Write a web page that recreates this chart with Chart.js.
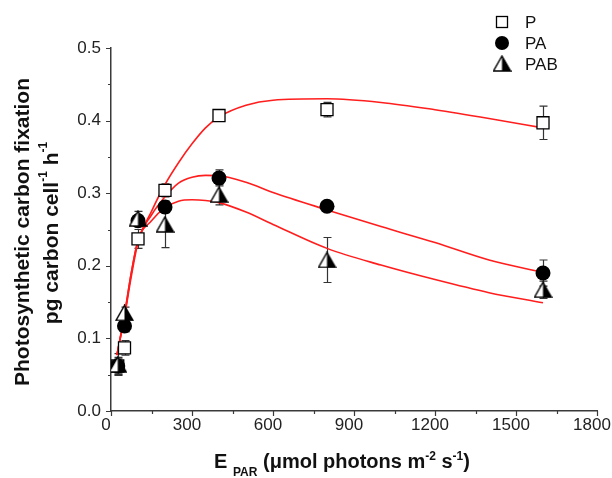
<!DOCTYPE html>
<html>
<head>
<meta charset="utf-8">
<script src="https://cdn.jsdelivr.net/npm/chart.js@4.4.1/dist/chart.umd.min.js"></script>
<style>
  html, body { margin: 0; padding: 0; background: #fff; }
  #wrap { width: 612px; height: 478px; }
</style>
</head>
<body>
<div id="wrap"><canvas id="chart" width="612" height="478"></canvas></div>
<script>
// Light levels (E PAR) of the measurements
const lightX = [25, 50, 100, 200, 400, 800, 1600];

// Measured carbon fixation per treatment
const pVals   = [0.062, 0.087, 0.237, 0.304, 0.407, 0.415, 0.397];
const paVals  = [0.062, 0.117, 0.262, 0.281, 0.321, 0.282, 0.190];
const pabVals = [0.064, 0.135, 0.265, 0.257, 0.298, 0.208, 0.167];

// Error bars (+/-)
const pErr   = [0.010, 0.010, 0.013, 0.009, 0.005, 0.010, 0.023];
const paErr  = [0.012, 0.008, 0.008, 0.008, 0.011, 0.005, 0.018];
const pabErr = [0.015, 0.008, 0.010, 0.032, 0.014, 0.031, 0.012];

// Fitted curves
const curveX   = [22, 50, 75, 100, 150, 200, 250, 300, 350, 400, 500, 600, 800, 1000, 1200, 1400, 1600];
const pCurve   = [0.077, 0.130, 0.185, 0.232, 0.275, 0.312, 0.342, 0.368, 0.390, 0.405, 0.421, 0.428, 0.430, 0.425, 0.415, 0.403, 0.390];
const paCurve  = [0.077, 0.132, 0.190, 0.235, 0.270, 0.295, 0.314, 0.322, 0.3245, 0.324, 0.315, 0.301, 0.277, 0.254, 0.232, 0.208, 0.191];
const pabCurve = [0.077, 0.133, 0.190, 0.235, 0.262, 0.280, 0.289, 0.291, 0.290, 0.287, 0.274, 0.257, 0.224, 0.201, 0.181, 0.163, 0.149];

// Axis ticks
const xTicks = [0, 300, 600, 900, 1200, 1500, 1800];
const yTicks = [0.0, 0.1, 0.2, 0.3, 0.4, 0.5];

const legendNames = ["P", "PA", "PAB"];

const FONT = '"Liberation Sans", Arial, sans-serif';
const AXIS = "#3a3a3a";
const RED = "#ff1e1e";

// half-open triangle marker: left half white, right half black
function makeTriangle() {
  const c = document.createElement("canvas");
  c.width = 19; c.height = 17;
  const g = c.getContext("2d");
  g.beginPath();
  g.moveTo(9.5, 1); g.lineTo(18, 16); g.lineTo(1, 16); g.closePath();
  g.fillStyle = "#fff"; g.fill();
  g.beginPath();
  g.moveTo(9.5, 1); g.lineTo(18, 16); g.lineTo(9.5, 16); g.closePath();
  g.fillStyle = "#000"; g.fill();
  g.beginPath();
  g.moveTo(9.5, 1); g.lineTo(18, 16); g.lineTo(1, 16); g.closePath();
  g.lineWidth = 1.4; g.strokeStyle = "#000"; g.stroke();
  return c;
}
const triImg = makeTriangle();

const pts = (xs, ys) => xs.map((x, i) => ({ x, y: ys[i] }));

// error bars drawn under the markers
const errorBars = {
  id: "errorBars",
  beforeDatasetsDraw(chart) {
    const { ctx, scales: { x, y } } = chart;
    const sets = [[pVals, pErr], [paVals, paErr], [pabVals, pabErr]];
    ctx.save();
    ctx.strokeStyle = "#333";
    ctx.lineWidth = 1.2;
    sets.forEach(([vals, errs]) => {
      vals.forEach((v, i) => {
        const px = Math.round(x.getPixelForValue(lightX[i])) + 0.5;
        const top = y.getPixelForValue(v + errs[i]);
        const bot = y.getPixelForValue(v - errs[i]);
        ctx.beginPath();
        ctx.moveTo(px, top); ctx.lineTo(px, bot);
        ctx.moveTo(px - 4, top); ctx.lineTo(px + 4, top);
        ctx.moveTo(px - 4, bot); ctx.lineTo(px + 4, bot);
        ctx.stroke();
      });
    });
    ctx.restore();
  },
};

// draws text runs with super/subscripts
function drawRich(ctx, parts, cx, cy, size) {
  const small = Math.round(size * 0.58);
  const fonts = {
    main: "bold " + size + "px " + FONT,
    sup: "bold " + small + "px " + FONT,
    sub: "bold " + small + "px " + FONT,
  };
  const dy = { main: 0, sup: -size * 0.38, sub: size * 0.38 };
  let total = 0;
  parts.forEach((p) => { ctx.font = fonts[p.f]; p.w = ctx.measureText(p.t).width; total += p.w; });
  let xx = cx - total / 2;
  ctx.textAlign = "left";
  parts.forEach((p) => {
    ctx.font = fonts[p.f];
    ctx.fillText(p.t, xx, cy + dy[p.f]);
    xx += p.w;
  });
}

const decorations = {
  id: "decorations",
  afterDraw(chart) {
    const { ctx, scales: { x, y } } = chart;
    ctx.save();
    // major / minor ticks, outward
    ctx.strokeStyle = AXIS;
    ctx.lineWidth = 1.2;
    ctx.beginPath();
    for (let v = 0; v <= 1800; v += 150) {
      const px = Math.round(x.getPixelForValue(v)) + 0.5;
      const len = v % 300 === 0 ? 5 : 3;
      ctx.moveTo(px, y.bottom); ctx.lineTo(px, y.bottom + len);
    }
    for (let k = 0; k <= 10; k++) {
      const py = Math.round(y.getPixelForValue(k * 0.05)) + 0.5;
      const len = k % 2 === 0 ? 5 : 3;
      ctx.moveTo(x.left, py); ctx.lineTo(x.left - len, py);
    }
    ctx.stroke();

    // axis titles
    ctx.fillStyle = "#111";
    ctx.textBaseline = "alphabetic";
    drawRich(ctx, [
      { t: "E", f: "main" }, { t: " ", f: "main" }, { t: "PAR", f: "sub" }, { t: " ", f: "main" },
      { t: "(\u03bcmol photons m", f: "main" }, { t: "-2", f: "sup" },
      { t: " s", f: "main" }, { t: "-1", f: "sup" }, { t: ")", f: "main" },
    ], 342, 468, 20);

    ctx.textBaseline = "middle";
    ctx.save();
    ctx.translate(23, 232);
    ctx.rotate(-Math.PI / 2);
    drawRich(ctx, [{ t: "Photosynthetic carbon fixation", f: "main" }], 0, 0, 21);
    ctx.restore();
    ctx.save();
    ctx.translate(52, 233);
    ctx.rotate(-Math.PI / 2);
    drawRich(ctx, [
      { t: "pg carbon cell", f: "main" }, { t: "-1", f: "sup" },
      { t: " h", f: "main" }, { t: "-1", f: "sup" },
    ], 0, 0, 21);
    ctx.restore();

    // legend
    const lx = 502, ly = [22, 43, 64];
    ctx.strokeStyle = "#000";
    ctx.lineWidth = 1.3;
    ctx.strokeRect(lx - 5.5, ly[0] - 5.5, 11, 11);
    ctx.fillStyle = "#000";
    ctx.beginPath(); ctx.arc(lx, ly[1], 7, 0, Math.PI * 2); ctx.fill();
    ctx.drawImage(triImg, lx - 9.5, ly[2] - 9);
    ctx.font = "17px " + FONT;
    ctx.fillStyle = "#111";
    ctx.textAlign = "left";
    legendNames.forEach((n, i) => ctx.fillText(n, 525, ly[i] + 1));
    ctx.restore();
  },
};

const markerBase = { showLine: false, pointBorderColor: "#000", pointHoverRadius: 7 };
const curveBase = { showLine: true, pointRadius: 0, borderColor: RED, borderWidth: 1.6, cubicInterpolationMode: "monotone", fill: false, order: 10 };

new Chart(document.getElementById("chart"), {
  type: "scatter",
  data: {
    datasets: [
      { ...markerBase, label: "P", data: pts(lightX, pVals), pointStyle: "rect", pointRadius: 8.5,
        pointBackgroundColor: "#fff", pointBorderWidth: 1.3, order: 3 },
      { ...markerBase, label: "PA", data: pts(lightX, paVals), pointStyle: "circle", pointRadius: 7.5,
        pointBackgroundColor: "#000", pointBorderWidth: 0, order: 2 },
      { ...markerBase, label: "PAB", data: pts(lightX, pabVals), pointStyle: triImg, order: 1 },
      { ...curveBase, label: "P fit", data: pts(curveX, pCurve) },
      { ...curveBase, label: "PA fit", data: pts(curveX, paCurve) },
      { ...curveBase, label: "PAB fit", data: pts(curveX, pabCurve) },
    ],
  },
  options: {
    responsive: false,
    animation: false,
    devicePixelRatio: 1,
    layout: { padding: { left: 0, top: 48, right: 15, bottom: 0 } },
    plugins: { legend: { display: false }, tooltip: { enabled: false } },
    scales: {
      x: {
        type: "linear", min: 0, max: 1800,
        afterBuildTicks: (s) => { s.ticks = xTicks.map((v) => ({ value: v })); },
        afterFit: (s) => { s.height = 67; s.paddingLeft = 0; s.paddingRight = 0; },
        grid: { display: false, drawTicks: false },
        border: { display: true, color: AXIS, width: 1.5 },
        ticks: { padding: 4, labelOffset: -5, color: "#222", font: { family: FONT, size: 17 }, maxRotation: 0, autoSkip: false,
          callback: (v) => String(v) },
      },
      y: {
        type: "linear", min: 0, max: 0.5,
        afterBuildTicks: (s) => { s.ticks = yTicks.map((v) => ({ value: v })); },
        afterFit: (s) => { s.width = 111; s.paddingTop = 0; s.paddingBottom = 0; },
        grid: { display: false, drawTicks: false },
        border: { display: true, color: AXIS, width: 1.5 },
        ticks: { padding: 10, color: "#222", font: { family: FONT, size: 17 },
          callback: (v) => Number(v).toFixed(1) },
      },
    },
  },
  plugins: [errorBars, decorations],
});
</script>
</body>
</html>
